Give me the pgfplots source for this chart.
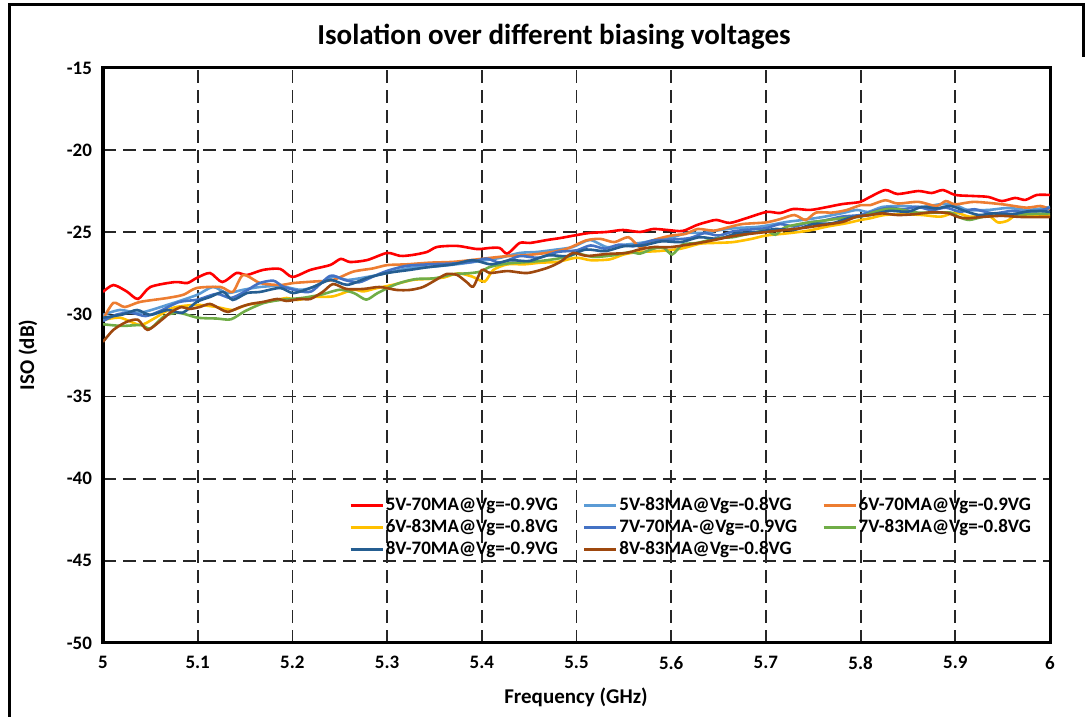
\documentclass[border=0pt]{standalone}
\usepackage{pgfplots}
\pgfplotsset{compat=1.18}
\usepackage{fontspec}
\setmainfont{Carlito}
\definecolor{cRed}{HTML}{FF0000}
\definecolor{cLBlue}{HTML}{5B9BD5}
\definecolor{cOrange}{HTML}{ED7D31}
\definecolor{cGold}{HTML}{FFC000}
\definecolor{cBlue}{HTML}{4472C4}
\definecolor{cGreen}{HTML}{70AD47}
\definecolor{cDBlue}{HTML}{255E91}
\definecolor{cBrown}{HTML}{9E480E}
\begin{document}
\begin{tikzpicture}
\useasboundingbox (0,0) rectangle (544.5pt,358.5pt);
\draw[line width=1.5pt] (4.5pt,0pt) -- (4.5pt,356pt) -- (541.5pt,356pt) -- (541.5pt,330pt);
\node[font=\fontsize{14.5}{16}\selectfont\bfseries] at (277pt,340pt) {Isolation over different biasing voltages};
\node[font=\fontsize{10.5}{12}\selectfont\bfseries, rotate=90] at (14pt,181pt) {ISO (dB)};
\node[font=\fontsize{10.5}{12}\selectfont\bfseries] at (288pt,10pt) {Frequency (GHz)};
\begin{axis}[
  at={(51.5pt,37pt)}, anchor=south west,
  scale only axis, width=473.5pt, height=287.5pt,
  xmin=5, xmax=6, ymin=-50, ymax=-15,
  xtick={5,5.1,5.2,5.3,5.4,5.5,5.6,5.7,5.8,5.9,6},
  xticklabels={5,5.1,5.2,5.3,5.4,5.5,5.6,5.7,5.8,5.9,6},
  ytick={-50,-45,-40,-35,-30,-25,-20,-15},
  yticklabels={-50,-45,-40,-35,-30,-25,-20,-15},
  tick style={draw=none},
  ticklabel style={font=\fontsize{9.5}{11}\selectfont\bfseries},
  yticklabel style={xshift=-2pt},
  xticklabel style={yshift=-3pt},
  grid=major,
  major grid style={black!85, line width=0.9pt, dash pattern=on 6.5pt off 3.5pt},
  axis line style={line width=1.5pt},
  legend columns=3,
  legend cell align=left,
  legend image code/.code={\draw[#1, line width=1.2pt] (0pt,0pt) -- (16pt,0pt);},
  legend style={at={(0.2534,0.2643)}, anchor=north west, draw=none, fill=none,
    font=\fontsize{9.5}{11}\selectfont\bfseries, row sep=1pt,
    nodes={inner sep=0.5pt, text height=7pt, text depth=2pt},
    /tikz/every odd column/.append style={column sep=0.5pt},
    /tikz/every even column/.append style={column sep=12pt}},
  every axis plot/.append style={line width=1.3pt, smooth, tension=0.45},
]
\addplot[cRed] coordinates {(5.000,-28.63)(5.011,-28.21)(5.025,-28.6)(5.037,-29.06)(5.050,-28.33)(5.076,-28.03)(5.089,-28.09)(5.099,-27.78)(5.113,-27.48)(5.126,-28.03)(5.141,-27.48)(5.152,-27.60)(5.169,-27.29)(5.187,-27.23)(5.200,-27.72)(5.219,-27.29)(5.240,-26.99)(5.251,-26.62)(5.261,-26.81)(5.279,-26.69)(5.300,-26.26)(5.314,-26.44)(5.327,-26.38)(5.342,-26.20)(5.353,-25.89)(5.374,-25.83)(5.395,-26.02)(5.409,-25.95)(5.419,-25.96)(5.427,-26.3)(5.440,-25.65)(5.451,-25.65)(5.469,-25.47)(5.483,-25.35)(5.501,-25.16)(5.514,-25.04)(5.532,-24.98)(5.549,-24.86)(5.567,-24.98)(5.581,-24.80)(5.596,-24.86)(5.612,-24.92)(5.627,-24.56)(5.638,-24.37)(5.648,-24.25)(5.662,-24.43)(5.680,-24.13)(5.701,-23.76)(5.715,-23.83)(5.729,-23.58)(5.747,-23.64)(5.765,-23.46)(5.781,-23.28)(5.799,-23.16)(5.808,-22.91)(5.826,-22.43)(5.839,-22.67)(5.861,-22.49)(5.875,-22.61)(5.887,-22.43)(5.900,-22.73)(5.918,-22.79)(5.935,-22.85)(5.949,-23.10)(5.963,-22.91)(5.974,-23.03)(5.986,-22.73)(6.000,-22.73)};
\addlegendentry{5V-70MA@Vg=-0.9VG}
\addplot[cLBlue] coordinates {(5.000,-30.03)(5.018,-29.73)(5.039,-29.9)(5.068,-29.42)(5.099,-28.82)(5.116,-28.33)(5.131,-28.7)(5.148,-28.5)(5.166,-28.33)(5.187,-28.27)(5.208,-28.5)(5.222,-28.33)(5.243,-27.72)(5.258,-27.9)(5.279,-27.72)(5.300,-27.48)(5.324,-27.17)(5.345,-27.11)(5.365,-27.0)(5.380,-26.9)(5.398,-26.75)(5.419,-26.56)(5.440,-26.26)(5.458,-26.2)(5.475,-26.08)(5.496,-25.9)(5.514,-25.47)(5.532,-25.9)(5.549,-25.77)(5.567,-25.65)(5.585,-25.47)(5.599,-25.35)(5.617,-25.04)(5.634,-25.04)(5.652,-24.86)(5.669,-24.74)(5.690,-24.68)(5.704,-24.56)(5.722,-24.37)(5.739,-24.25)(5.760,-24.07)(5.781,-23.83)(5.796,-23.64)(5.808,-23.76)(5.823,-23.46)(5.844,-23.4)(5.865,-23.46)(5.886,-23.28)(5.900,-23.34)(5.913,-23.64)(5.935,-23.64)(5.956,-23.52)(5.977,-23.64)(6.000,-23.46)};
\addlegendentry{5V-83MA@Vg=-0.8VG}
\addplot[cOrange] coordinates {(5.000,-30.3)(5.011,-29.3)(5.023,-29.55)(5.039,-29.24)(5.068,-29.0)(5.085,-28.8)(5.099,-28.39)(5.124,-28.33)(5.137,-28.63)(5.148,-27.60)(5.166,-28.09)(5.187,-28.21)(5.201,-28.09)(5.222,-28.0)(5.243,-27.9)(5.264,-27.4)(5.285,-27.2)(5.300,-27.0)(5.321,-26.95)(5.345,-26.85)(5.370,-26.8)(5.395,-26.65)(5.410,-26.55)(5.427,-26.45)(5.445,-26.4)(5.469,-26.25)(5.490,-26.0)(5.510,-25.5)(5.525,-25.4)(5.540,-25.6)(5.555,-25.3)(5.568,-25.95)(5.580,-25.5)(5.600,-25.2)(5.615,-25.1)(5.628,-24.8)(5.645,-24.9)(5.660,-24.7)(5.675,-24.5)(5.700,-24.4)(5.715,-24.2)(5.730,-23.95)(5.742,-24.25)(5.753,-23.8)(5.770,-23.8)(5.785,-23.65)(5.800,-23.35)(5.810,-23.35)(5.826,-23.05)(5.839,-23.25)(5.861,-23.15)(5.880,-23.4)(5.890,-23.1)(5.900,-23.3)(5.920,-23.15)(5.950,-23.3)(5.975,-23.5)(5.990,-23.4)(6.000,-23.6)};
\addlegendentry{6V-70MA@Vg=-0.9VG}
\addplot[cGold] coordinates {(5.000,-30.34)(5.018,-30.2)(5.039,-30.64)(5.053,-30.28)(5.074,-29.6)(5.099,-29.42)(5.120,-29.55)(5.137,-29.73)(5.152,-29.42)(5.173,-29.24)(5.194,-29.0)(5.205,-29.12)(5.222,-28.94)(5.243,-28.9)(5.264,-28.5)(5.275,-28.6)(5.289,-28.4)(5.306,-28.2)(5.327,-27.9)(5.345,-27.84)(5.360,-27.75)(5.375,-27.5)(5.390,-27.7)(5.403,-28.0)(5.412,-27.3)(5.427,-26.95)(5.445,-26.95)(5.462,-26.85)(5.480,-26.8)(5.500,-26.55)(5.515,-26.7)(5.535,-26.65)(5.550,-26.35)(5.565,-26.2)(5.585,-26.15)(5.610,-26.0)(5.630,-25.7)(5.645,-25.65)(5.665,-25.6)(5.685,-25.4)(5.700,-25.2)(5.725,-25.05)(5.745,-24.9)(5.765,-24.65)(5.785,-24.45)(5.800,-24.25)(5.810,-24.15)(5.825,-23.95)(5.845,-23.9)(5.865,-23.95)(5.885,-24.05)(5.900,-23.8)(5.915,-24.05)(5.935,-24.0)(5.945,-24.4)(5.955,-24.3)(5.965,-23.95)(5.985,-24.0)(6.000,-23.95)};
\addlegendentry{6V-83MA@Vg=-0.8VG}
\addplot[cBlue] coordinates {(5.000,-30.4)(5.015,-30.0)(5.030,-29.9)(5.045,-30.1)(5.060,-29.8)(5.080,-29.25)(5.100,-29.1)(5.120,-28.75)(5.135,-29.0)(5.150,-28.6)(5.165,-28.1)(5.180,-27.95)(5.190,-28.3)(5.205,-28.55)(5.220,-28.6)(5.240,-27.65)(5.255,-27.9)(5.270,-28.05)(5.285,-27.7)(5.300,-27.35)(5.320,-27.05)(5.345,-26.95)(5.370,-26.9)(5.390,-26.8)(5.405,-26.6)(5.420,-26.85)(5.440,-26.45)(5.460,-26.55)(5.480,-26.2)(5.500,-26.1)(5.515,-25.8)(5.530,-26.0)(5.545,-25.75)(5.560,-25.85)(5.580,-25.5)(5.600,-25.45)(5.620,-25.35)(5.635,-25.05)(5.650,-25.2)(5.665,-24.95)(5.680,-24.85)(5.700,-24.75)(5.715,-24.5)(5.730,-24.65)(5.745,-24.4)(5.760,-24.3)(5.780,-24.05)(5.800,-23.95)(5.815,-23.7)(5.830,-23.5)(5.845,-23.6)(5.860,-23.45)(5.875,-23.65)(5.890,-23.5)(5.905,-23.75)(5.920,-23.6)(5.940,-23.85)(5.960,-23.7)(5.980,-23.8)(6.000,-23.5)};
\addlegendentry{7V-70MA-@Vg=-0.9VG}
\addplot[cGreen] coordinates {(5.000,-30.6)(5.020,-30.7)(5.040,-30.65)(5.050,-30.85)(5.065,-30.1)(5.080,-29.9)(5.100,-30.2)(5.120,-30.25)(5.135,-30.3)(5.150,-29.8)(5.170,-29.3)(5.190,-29.1)(5.210,-29.0)(5.230,-28.8)(5.250,-28.5)(5.265,-28.7)(5.278,-29.1)(5.290,-28.7)(5.310,-28.15)(5.330,-27.85)(5.350,-27.8)(5.370,-27.55)(5.385,-27.5)(5.398,-27.4)(5.409,-27.1)(5.427,-26.9)(5.451,-26.8)(5.469,-26.7)(5.490,-26.5)(5.501,-26.3)(5.518,-26.5)(5.539,-26.4)(5.557,-26.2)(5.567,-26.3)(5.581,-26.0)(5.592,-25.95)(5.601,-26.35)(5.612,-25.75)(5.627,-25.65)(5.650,-25.35)(5.665,-25.3)(5.685,-25.05)(5.700,-24.9)(5.710,-25.15)(5.720,-24.7)(5.740,-24.45)(5.760,-24.3)(5.780,-24.15)(5.800,-24.05)(5.810,-23.85)(5.826,-23.6)(5.840,-23.6)(5.860,-23.8)(5.880,-23.8)(5.895,-23.8)(5.905,-24.1)(5.915,-24.25)(5.930,-24.05)(5.950,-23.95)(5.975,-23.9)(6.000,-23.85)};
\addlegendentry{7V-83MA@Vg=-0.8VG}
\addplot[cDBlue] coordinates {(5.000,-30.2)(5.021,-30.0)(5.036,-29.73)(5.050,-30.03)(5.068,-29.73)(5.084,-29.9)(5.099,-29.24)(5.113,-28.94)(5.127,-28.63)(5.137,-29.12)(5.152,-28.7)(5.166,-28.63)(5.187,-28.39)(5.201,-28.7)(5.222,-28.33)(5.240,-27.9)(5.258,-28.2)(5.279,-27.78)(5.300,-27.48)(5.324,-27.29)(5.345,-27.11)(5.370,-26.95)(5.390,-26.7)(5.410,-26.95)(5.430,-26.7)(5.450,-26.75)(5.470,-26.4)(5.490,-26.45)(5.510,-26.05)(5.530,-26.15)(5.550,-25.85)(5.570,-25.8)(5.590,-25.55)(5.610,-25.6)(5.630,-25.3)(5.650,-25.4)(5.670,-25.05)(5.690,-25.0)(5.710,-24.8)(5.730,-24.85)(5.750,-24.5)(5.770,-24.45)(5.790,-24.1)(5.810,-23.95)(5.830,-23.7)(5.850,-23.75)(5.865,-23.45)(5.880,-23.55)(5.895,-23.4)(5.910,-23.7)(5.925,-23.95)(5.940,-23.85)(5.960,-23.9)(5.980,-23.7)(6.000,-23.75)};
\addlegendentry{8V-70MA@Vg=-0.9VG}
\addplot[cBrown] coordinates {(5.000,-31.67)(5.011,-30.94)(5.025,-30.45)(5.037,-30.33)(5.047,-30.94)(5.062,-30.33)(5.072,-29.85)(5.083,-29.55)(5.091,-29.67)(5.102,-29.55)(5.113,-29.36)(5.124,-29.67)(5.132,-29.85)(5.145,-29.55)(5.156,-29.36)(5.169,-29.24)(5.184,-29.06)(5.194,-29.18)(5.208,-29.06)(5.219,-29.06)(5.232,-28.63)(5.243,-28.15)(5.257,-28.45)(5.275,-28.45)(5.292,-28.33)(5.310,-28.51)(5.324,-28.51)(5.338,-28.33)(5.353,-27.85)(5.363,-27.54)(5.374,-27.60)(5.384,-28.03)(5.391,-28.3)(5.400,-27.3)(5.409,-27.48)(5.427,-27.36)(5.448,-27.48)(5.469,-27.17)(5.483,-26.8)(5.496,-26.26)(5.511,-26.44)(5.532,-26.32)(5.553,-26.26)(5.564,-26.08)(5.581,-25.9)(5.600,-25.9)(5.634,-25.6)(5.669,-25.2)(5.701,-24.98)(5.739,-24.74)(5.760,-24.56)(5.781,-24.37)(5.796,-24.05)(5.810,-23.95)(5.823,-23.85)(5.839,-23.95)(5.857,-23.9)(5.875,-23.78)(5.892,-23.83)(5.903,-24.07)(5.913,-24.15)(5.928,-24.07)(5.949,-24.0)(5.970,-24.07)(6.000,-24.07)};
\addlegendentry{8V-83MA@Vg=-0.8VG}
\end{axis}
\end{tikzpicture}
\end{document}
